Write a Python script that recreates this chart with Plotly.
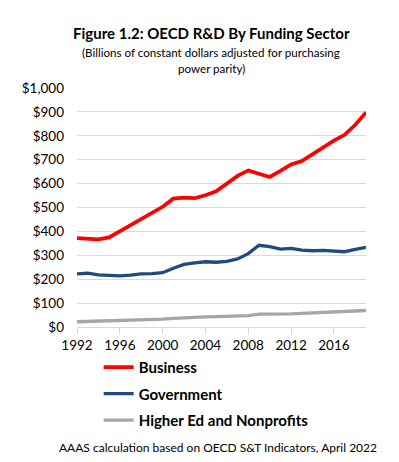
import plotly.graph_objects as go

years = list(range(1992, 2020))
business = [372, 369, 367, 375, 400, 426, 450, 475, 503, 537, 541, 539, 551, 568,
            600, 632, 655, 641, 628, 653, 680, 694, 722, 753, 780, 804, 846, 898]
government = [222, 225, 218, 215, 214, 217, 222, 223, 227, 246, 262, 268, 273, 271,
              275, 285, 307, 342, 336, 326, 329, 322, 319, 321, 318, 315, 325, 333]
higher_ed = [22, 23, 24, 25, 27, 28, 30, 31, 33, 36, 39, 40, 42, 43,
             44, 46, 48, 54, 54, 53, 55, 57, 59, 61, 63, 64, 66, 69]
series_names = ["Business", "Government", "Higher Ed and Nonprofits"]
x_ticks = list(range(1992, 2020, 4))
y_ticks = list(range(0, 1001, 100))
y_tick_labels = ["$0", "$100", "$200", "$300", "$400", "$500", "$600", "$700", "$800", "$900", "$1,000"]

FONT = "Lato"
colors = ["#ff0000", "#214b7f", "#a6a6a6"]
widths = [3.7, 3.3, 3.3]

# page body has an 8px default margin; figure is sized/offset to compensate
fig = go.Figure()
for i, (name, vals) in enumerate(zip(series_names, [business, government, higher_ed])):
    fig.add_trace(go.Scatter(
        x=years, y=vals, mode="lines", name=name, legendgroup=name,
        line=dict(color=colors[i], width=widths[i]),
    ))

fig.update_layout(
    width=391, height=454,
    margin=dict(l=69, r=33, t=80, b=135, autoexpand=False),
    paper_bgcolor="white", plot_bgcolor="white",
    font=dict(family=FONT, color="#000000"),
    showlegend=True,
    legend=dict(
        x=0.075, y=-0.1, xanchor="left", yanchor="top",
        font=dict(family=FONT, size=15, color="#000000", weight="bold"),
        tracegroupgap=4, itemwidth=30,
        bgcolor="rgba(0,0,0,0)",
    ),
    xaxis=dict(
        range=[1992, 2019], tickmode="array", tickvals=x_ticks,
        ticktext=[str(t) for t in x_ticks],
        showgrid=False, zeroline=False,
        showline=True, linecolor="#d9d9d9", linewidth=1,
        ticks="outside", ticklen=6, tickcolor="#d9d9d9",
        tickfont=dict(family=FONT, size=13.5, color="#000000"),
    ),
    yaxis=dict(
        range=[0, 1000], tickmode="array", tickvals=y_ticks, ticktext=y_tick_labels,
        showgrid=True, gridcolor="#d9d9d9", gridwidth=1,
        zeroline=False, showline=False, ticks="",
        ticklabelstandoff=12,
        tickfont=dict(family=FONT, size=13.5, color="#000000"),
    ),
    annotations=[
        dict(text="<b>Figure 1.2: OECD R&D By Funding Sector</b>", xref="paper", yref="paper",
             x=(211 - 77) / 289, y=(327 - 33) / 239, xanchor="center", yanchor="middle",
             showarrow=False, font=dict(family=FONT, size=15, color="#000000")),
        dict(text="(Billions of constant dollars adjusted for purchasing", xref="paper", yref="paper",
             x=(211 - 77) / 289, y=(327 - 52) / 239, xanchor="center", yanchor="middle",
             showarrow=False, font=dict(family=FONT, size=11.6, color="#000000")),
        dict(text="power parity)", xref="paper", yref="paper",
             x=(211 - 77) / 289, y=(327 - 68) / 239, xanchor="center", yanchor="middle",
             showarrow=False, font=dict(family=FONT, size=11.6, color="#000000")),
        dict(text="AAAS calculation based on OECD S&T Indicators, April 2022", xref="paper", yref="paper",
             x=(218 - 77) / 289, y=(327 - 447) / 239, xanchor="center", yanchor="middle",
             showarrow=False, font=dict(family=FONT, size=12, color="#000000")),
    ],
)

fig.write_html("out.html")
